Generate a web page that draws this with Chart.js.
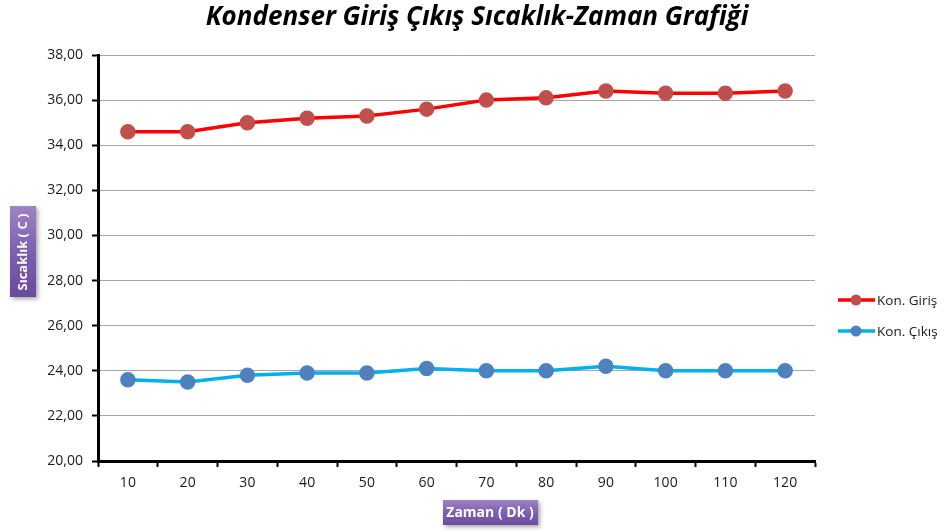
<!DOCTYPE html>
<html lang="tr">
<head>
    <meta charset="UTF-8">
    <script src="https://cdn.jsdelivr.net/npm/chart.js"></script>
    <title>Kondenser Giriş Çıkış Sıcaklık-Zaman Grafiği</title>
    <style>
        body { margin: 0; background: #fff; }
        #wrap { width: 945px; height: 532px; position: relative; }
    </style>
</head>
<body>
    <div id="wrap"><canvas id="chart"></canvas></div>

    <script>
        const zaman = ['10', '20', '30', '40', '50', '60', '70', '80', '90', '100', '110', '120'];
        const konGiris = [34.6, 34.6, 35.0, 35.2, 35.3, 35.6, 36.0, 36.1, 36.4, 36.3, 36.3, 36.4];
        const konCikis = [23.6, 23.5, 23.8, 23.9, 23.9, 24.1, 24.0, 24.0, 24.2, 24.0, 24.0, 24.0];
        const yMin = 20, yMax = 38, yStep = 2;

        const FONT = '"Open Sans", sans-serif';

        // purple label box like the excel axis titles
        function purpleBox(ctx, x, y, w, h) {
            ctx.save();
            ctx.shadowColor = 'rgba(0,0,0,0.35)';
            ctx.shadowBlur = 4;
            ctx.shadowOffsetX = 2;
            ctx.shadowOffsetY = 2;
            const g = ctx.createLinearGradient(x, y, x, y + h);
            g.addColorStop(0, '#9d84c4');
            g.addColorStop(0.5, '#7f5fb0');
            g.addColorStop(1, '#6a4a9c');
            ctx.fillStyle = g;
            ctx.fillRect(x, y, w, h);
            ctx.restore();
        }

        const extras = {
            id: 'extras',
            afterDraw(chart) {
                const ctx = chart.ctx;

                // title
                ctx.save();
                ctx.fillStyle = '#000';
                ctx.font = 'italic bold 26px ' + FONT;
                ctx.textAlign = 'center';
                ctx.textBaseline = 'middle';
                ctx.fillText('Kondenser Giriş Çıkış Sıcaklık-Zaman Grafiği', 477, 18);
                ctx.restore();

                // x axis title
                purpleBox(ctx, 443, 500, 95, 25);
                ctx.save();
                ctx.fillStyle = '#fff';
                ctx.font = 'bold 14px ' + FONT;
                ctx.textAlign = 'center';
                ctx.textBaseline = 'middle';
                ctx.fillText('Zaman ( Dk )', 490, 513);
                ctx.restore();

                // y axis title
                purpleBox(ctx, 10, 206, 26, 91);
                ctx.save();
                ctx.translate(23, 252);
                ctx.rotate(-Math.PI / 2);
                ctx.fillStyle = '#fff';
                ctx.font = 'bold 13px ' + FONT;
                ctx.textAlign = 'center';
                ctx.textBaseline = 'middle';
                ctx.fillText('Sıcaklık ( C )', 0, 0);
                ctx.restore();

                // legend
                chart.data.datasets.forEach((ds, i) => {
                    const y = 300 + i * 31;
                    ctx.save();
                    ctx.strokeStyle = ds.borderColor;
                    ctx.lineWidth = 3.5;
                    ctx.beginPath();
                    ctx.moveTo(838, y);
                    ctx.lineTo(875, y);
                    ctx.stroke();
                    ctx.fillStyle = ds.pointBackgroundColor;
                    ctx.beginPath();
                    ctx.arc(856, y, 5.5, 0, Math.PI * 2);
                    ctx.fill();
                    ctx.fillStyle = '#1a1a1a';
                    ctx.font = '13.5px ' + FONT;
                    ctx.textBaseline = 'middle';
                    ctx.fillText(ds.label, 877, y + 1);
                    ctx.restore();
                });
            }
        };

        new Chart(document.getElementById('chart'), {
            type: 'line',
            data: {
                labels: zaman,
                datasets: [{
                    label: 'Kon. Giriş',
                    data: konGiris,
                    borderColor: '#ff0000',
                    borderWidth: 3.5,
                    pointBackgroundColor: '#c0504d',
                    pointBorderColor: '#c0504d',
                    pointRadius: 6,
                    tension: 0
                }, {
                    label: 'Kon. Çıkış',
                    data: konCikis,
                    borderColor: '#00b0f0',
                    borderWidth: 3.5,
                    pointBackgroundColor: '#4f81bd',
                    pointBorderColor: '#4f81bd',
                    pointRadius: 6,
                    tension: 0
                }]
            },
            options: {
                responsive: true,
                maintainAspectRatio: false,
                animation: false,
                layout: { padding: { top: 55, right: 130, left: 0, bottom: 0 } },
                plugins: {
                    legend: { display: false },
                    title: { display: false },
                    tooltip: { enabled: false }
                },
                scales: {
                    x: {
                        offset: true,
                        grid: {
                            offset: true,
                            drawOnChartArea: false,
                            drawTicks: true,
                            tickLength: 6,
                            tickColor: '#000',
                            tickWidth: 2
                        },
                        border: { color: '#000', width: 3 },
                        ticks: {
                            color: '#1a1a1a',
                            font: { family: FONT, size: 14 },
                            padding: 8,
                            maxRotation: 0
                        },
                        afterFit(s) { s.height = 71; }
                    },
                    y: {
                        min: yMin,
                        max: yMax,
                        grid: {
                            color: '#a6a6a6',
                            lineWidth: 1,
                            tickLength: 6,
                            tickColor: '#000',
                            tickWidth: 2
                        },
                        border: { color: '#000', width: 3 },
                        ticks: {
                            stepSize: yStep,
                            color: '#1a1a1a',
                            font: { family: FONT, size: 14 },
                            padding: 9,
                            callback: v => v.toFixed(2).replace('.', ',')
                        },
                        afterFit(s) { s.width = 98; }
                    }
                }
            },
            plugins: [extras]
        });
    </script>
</body>
</html>
